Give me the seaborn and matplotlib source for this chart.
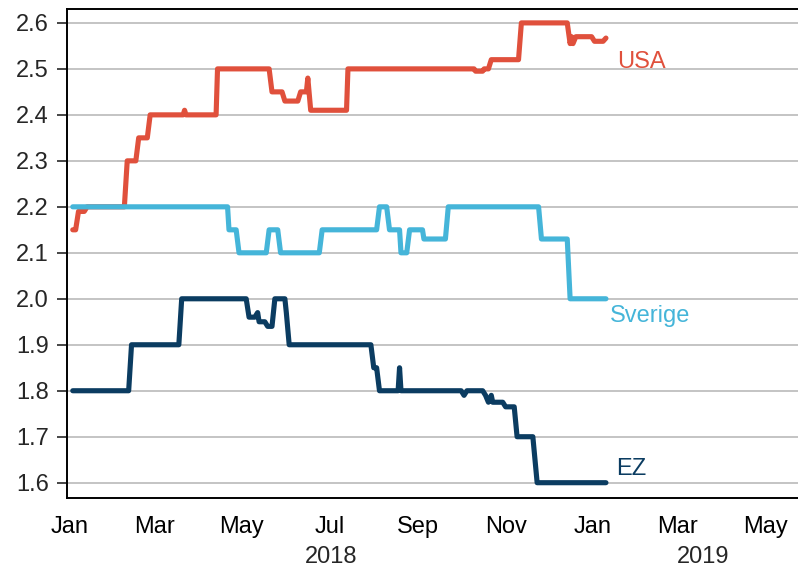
import matplotlib
matplotlib.use("Agg")
import matplotlib.pyplot as plt
import matplotlib.dates as mdates
import matplotlib.transforms as mtransforms
import seaborn as sns
import pandas as pd

# Data (step-like daily series, change points only)
usa_dates = ["2018-01-03", "2018-01-05", "2018-01-07", "2018-01-11", "2018-01-13",
             "2018-02-08", "2018-02-10", "2018-02-16", "2018-02-18", "2018-02-24",
             "2018-02-26", "2018-03-21", "2018-03-22", "2018-03-23", "2018-04-13",
             "2018-04-14", "2018-05-20", "2018-05-22", "2018-05-29", "2018-05-31",
             "2018-06-09", "2018-06-11", "2018-06-15", "2018-06-16", "2018-06-18",
             "2018-07-13", "2018-07-14", "2018-10-10", "2018-10-11", "2018-10-16",
             "2018-10-17", "2018-10-20", "2018-10-22", "2018-11-10", "2018-11-12",
             "2018-12-14", "2018-12-16", "2018-12-17", "2018-12-18", "2018-12-20",
             "2018-12-31", "2019-01-02", "2019-01-08", "2019-01-10"]
usa_values = [2.15, 2.15, 2.19, 2.19, 2.20,
              2.20, 2.30, 2.30, 2.35, 2.35,
              2.40, 2.40, 2.41, 2.40, 2.40,
              2.50, 2.50, 2.45, 2.45, 2.43,
              2.43, 2.45, 2.45, 2.48, 2.41,
              2.41, 2.50, 2.50, 2.495, 2.495,
              2.50, 2.50, 2.52, 2.52, 2.60,
              2.60, 2.555, 2.57, 2.555, 2.57,
              2.57, 2.56, 2.56, 2.567]

swe_dates = ["2018-01-03", "2018-04-21", "2018-04-22", "2018-04-27", "2018-04-29",
             "2018-05-18", "2018-05-20", "2018-05-26", "2018-05-28", "2018-06-24",
             "2018-06-26", "2018-08-03", "2018-08-05", "2018-08-10", "2018-08-12",
             "2018-08-19", "2018-08-20", "2018-08-24", "2018-08-26", "2018-09-04",
             "2018-09-05", "2018-09-20", "2018-09-22", "2018-11-24", "2018-11-26",
             "2018-12-14", "2018-12-16", "2019-01-10"]
swe_values = [2.20, 2.20, 2.15, 2.15, 2.10,
              2.10, 2.15, 2.15, 2.10, 2.10,
              2.15, 2.15, 2.20, 2.20, 2.15,
              2.15, 2.10, 2.10, 2.15, 2.15,
              2.13, 2.13, 2.20, 2.20, 2.13,
              2.13, 2.00, 2.00]

ez_dates = ["2018-01-03", "2018-02-11", "2018-02-13", "2018-03-18", "2018-03-20",
            "2018-05-04", "2018-05-06", "2018-05-10", "2018-05-12", "2018-05-13",
            "2018-05-17", "2018-05-19", "2018-05-22", "2018-05-24", "2018-05-31",
            "2018-06-01", "2018-06-03", "2018-07-30", "2018-08-01", "2018-08-03",
            "2018-08-05", "2018-08-18", "2018-08-19", "2018-08-20", "2018-10-01",
            "2018-10-03", "2018-10-05", "2018-10-16", "2018-10-18", "2018-10-20",
            "2018-10-22", "2018-10-23", "2018-10-30", "2018-11-01", "2018-11-07",
            "2018-11-09", "2018-11-20", "2018-11-23", "2019-01-10"]
ez_values = [1.80, 1.80, 1.90, 1.90, 2.00,
             2.00, 1.96, 1.96, 1.97, 1.95,
             1.95, 1.94, 1.94, 2.00, 2.00,
             1.97, 1.90, 1.90, 1.85, 1.85,
             1.80, 1.80, 1.85, 1.80, 1.80,
             1.79, 1.80, 1.80, 1.79, 1.775,
             1.79, 1.775, 1.775, 1.765, 1.765,
             1.70, 1.70, 1.60, 1.60]

series_names = ["USA", "Sverige", "EZ"]
colors = {"USA": "#E0503C", "Sverige": "#45B5D9", "EZ": "#0B3C61"}

df = pd.concat([
    pd.DataFrame({"date": pd.to_datetime(usa_dates), "value": usa_values, "serie": "USA"}),
    pd.DataFrame({"date": pd.to_datetime(swe_dates), "value": swe_values, "serie": "Sverige"}),
    pd.DataFrame({"date": pd.to_datetime(ez_dates), "value": ez_values, "serie": "EZ"}),
])

sns.set_style("white")
plt.rcParams["font.family"] = ["Liberation Sans", "DejaVu Sans"]

fig = plt.figure(figsize=(7.98, 5.69), dpi=100)
ax = fig.add_axes([0.084, 0.125, 0.916, 0.859])

ax.yaxis.grid(True, color="#C4C4C4", linewidth=1.4)
ax.set_axisbelow(True)

sns.lineplot(data=df, x="date", y="value", hue="serie", hue_order=series_names,
             palette=colors, linewidth=3.7, estimator=None, legend=False, ax=ax)

ax.set_xlim(pd.Timestamp("2017-12-30"), pd.Timestamp("2019-05-24"))
ax.set_ylim(1.567, 2.630)
ax.set_yticks([1.6, 1.7, 1.8, 1.9, 2.0, 2.1, 2.2, 2.3, 2.4, 2.5, 2.6])
ax.yaxis.set_major_formatter(matplotlib.ticker.FormatStrFormatter("%.1f"))

ax.xaxis.set_major_locator(mdates.MonthLocator(bymonth=[1, 3, 5, 7, 9, 11]))
ax.xaxis.set_major_formatter(mdates.DateFormatter("%b"))
ax.xaxis.set_minor_locator(mdates.YearLocator())
ax.xaxis.remove_overlapping_locs = False
ax.tick_params(axis="x", which="major", direction="out", length=3, width=1.2,
               pad=10, labelsize=17, colors="black")
ax.tick_params(axis="x", which="minor", direction="out", length=8, width=1.5)
ax.tick_params(axis="y", direction="out", length=7, width=1.2, pad=6,
               labelsize=17, left=True)
ax.set_xlabel("")
ax.set_ylabel("")

for side in ["left", "bottom", "top"]:
    ax.spines[side].set_color("black")
    ax.spines[side].set_linewidth(1.4)
ax.spines["right"].set_visible(False)

# year labels under the month ticks
trans = mtransforms.blended_transform_factory(ax.transData, ax.transAxes)
ax.text(pd.Timestamp("2018-07-02"), -0.121, "2018", transform=trans,
        ha="center", va="center", fontsize=17)
ax.text(pd.Timestamp("2019-03-19"), -0.121, "2019", transform=trans,
        ha="center", va="center", fontsize=17)

# series labels at the end of each line
ax.text(pd.Timestamp("2019-01-18"), 2.514, "USA", color=colors["USA"],
        ha="left", va="center", fontsize=17)
ax.text(pd.Timestamp("2019-01-13"), 1.962, "Sverige", color=colors["Sverige"],
        ha="left", va="center", fontsize=17)
ax.text(pd.Timestamp("2019-01-17"), 1.630, "EZ", color=colors["EZ"],
        ha="left", va="center", fontsize=17)

fig.savefig("out.png", dpi=100)
